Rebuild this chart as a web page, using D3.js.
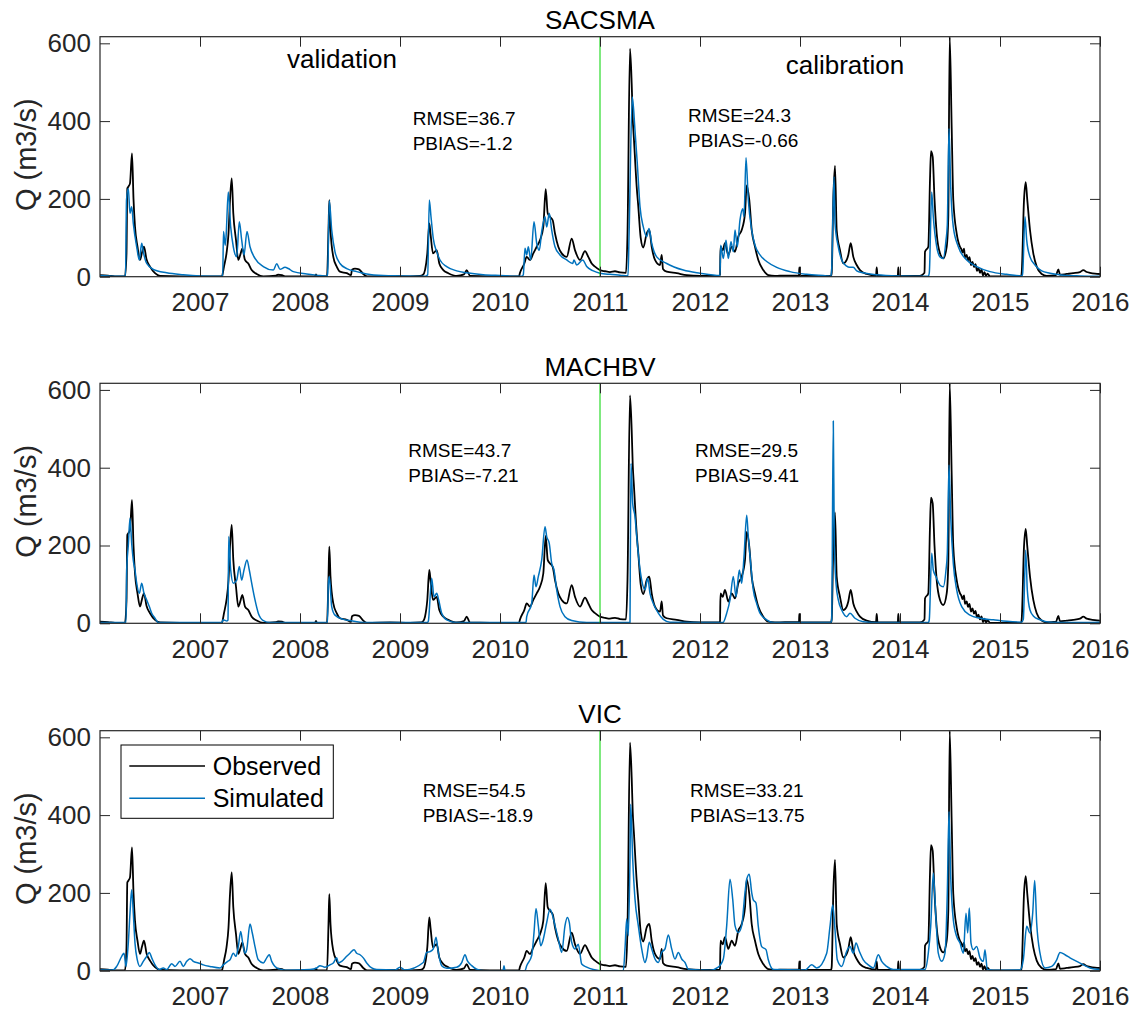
<!DOCTYPE html>
<html>
<head>
<meta charset="utf-8">
<script src="https://cdn.jsdelivr.net/npm/d3@7"></script>
<style>
  html, body { margin: 0; padding: 0; background: #fff; }
  svg { display: block; }
</style>
</head>
<body>
<script>
// ---- data: daily streamflow, keyed by decimal year -> Q (m3/s) ----
const yearTicks = [2007, 2008, 2009, 2010, 2011, 2012, 2013, 2014, 2015, 2016];
const qTicks = [0, 200, 400, 600];
const modelNames = ["SACSMA", "MACHBV", "VIC"];
const splitYear = 2011;

const observed = [
  [2006.000,4],[2006.080,3],[2006.150,1],[2006.250,1],[2006.265,60],[2006.273,227],[2006.285,232],[2006.300,240],[2006.320,317],[2006.335,200],[2006.350,128],[2006.375,77],[2006.400,43],[2006.420,62],[2006.440,77],[2006.465,45],[2006.500,26],[2006.550,9],[2006.600,2],[2006.800,1],[2007.000,1],[2007.220,1],
  [2007.227,8],[2007.240,26],[2007.265,60],[2007.285,111],[2007.300,197],[2007.317,253],[2007.333,163],[2007.360,94],[2007.383,43],[2007.407,60],[2007.423,73],[2007.450,43],[2007.483,34],[2007.517,17],[2007.567,7],[2007.633,1],[2007.760,3],[2007.780,5],[2007.820,4],[2007.850,1],[2008.150,1],[2008.160,6],[2008.170,1],
  [2008.270,1],[2008.285,120],[2008.293,197],[2008.305,120],[2008.333,51],[2008.367,26],[2008.400,13],[2008.467,9],[2008.510,4],[2008.520,18],[2008.550,21],[2008.590,19],[2008.633,7],[2008.670,1],[2008.900,2],[2009.100,1],[2009.200,2],
  [2009.230,5],[2009.250,17],[2009.273,60],[2009.293,137],[2009.305,111],[2009.330,60],[2009.367,68],[2009.393,34],[2009.433,17],[2009.483,9],[2009.567,2],[2009.640,6],[2009.667,17],[2009.700,2],[2009.900,1],[2010.190,1],
  [2010.200,10],[2010.243,34],[2010.267,51],[2010.300,43],[2010.333,60],[2010.367,77],[2010.400,94],[2010.433,128],[2010.457,225],[2010.477,163],[2010.500,154],[2010.527,145],[2010.550,111],[2010.583,77],[2010.617,60],[2010.667,51],[2010.717,98],[2010.750,68],[2010.800,43],[2010.850,66],[2010.883,51],[2010.917,34],[2010.950,26],[2011.000,17],[2011.050,14],[2011.100,12],[2011.150,14],[2011.200,11],[2011.260,10],
  [2011.275,111],[2011.300,586],[2011.317,496],[2011.327,410],[2011.340,351],[2011.367,231],[2011.383,180],[2011.407,100],[2011.433,75],[2011.467,111],[2011.493,120],[2011.517,77],[2011.550,43],[2011.600,30],[2011.617,56],[2011.630,20],[2011.667,13],[2011.767,9],[2011.867,4],[2012.000,2],[2012.190,2],
  [2012.200,5],[2012.205,77],[2012.227,68],[2012.250,86],[2012.283,56],[2012.317,77],[2012.350,64],[2012.383,103],[2012.417,120],[2012.450,163],[2012.467,235],[2012.493,197],[2012.517,120],[2012.550,77],[2012.583,43],[2012.633,17],[2012.683,4],[2012.750,2],[2012.850,3],[2012.990,3],[2012.993,24],[2013.000,3],[2013.200,2],[2013.310,2],
  [2013.317,10],[2013.333,200],[2013.350,285],[2013.367,120],[2013.400,68],[2013.433,34],[2013.467,43],[2013.483,56],[2013.507,86],[2013.533,51],[2013.567,30],[2013.600,17],[2013.667,7],[2013.760,3],[2013.767,24],[2013.775,3],[2013.900,2],[2013.978,2],[2013.983,24],[2013.990,2],[2014.200,2],
  [2014.245,10],[2014.250,64],[2014.283,77],[2014.300,250],[2014.310,323],[2014.327,308],[2014.345,200],[2014.367,111],[2014.400,60],[2014.433,47],[2014.467,77],[2014.483,154],[2014.497,617],[2014.517,381],[2014.533,197],[2014.567,111],[2014.583,90],[2014.600,77],[2014.615,70],[2014.625,62],[2014.640,72],[2014.650,50],[2014.667,56],[2014.680,42],[2014.695,50],[2014.710,30],[2014.725,38],[2014.740,25],[2014.755,32],[2014.770,15],[2014.785,22],[2014.800,10],[2014.815,18],[2014.830,3],[2014.845,12],[2014.860,2],[2014.875,8],[2014.900,1],[2015.000,1],[2015.210,1],
  [2015.217,10],[2015.240,197],[2015.257,243],[2015.273,197],[2015.300,120],[2015.333,60],[2015.367,26],[2015.417,7],[2015.467,2],[2015.560,4],[2015.583,19],[2015.600,5],[2015.667,7],[2015.733,9],[2015.800,12],[2015.833,17],[2015.867,12],[2015.900,10],[2015.950,8],[2016.000,7]
];

const simSACSMA = [
  [2006.000,3],[2006.150,1],[2006.255,1],[2006.265,197],[2006.283,227],[2006.300,163],[2006.317,180],[2006.333,137],[2006.367,77],[2006.393,43],[2006.417,86],[2006.433,64],[2006.467,34],[2006.533,19],[2006.667,10],[2006.833,5],[2007.000,2],[2007.200,1],
  [2007.227,1],[2007.235,116],[2007.252,81],[2007.260,100],[2007.283,218],[2007.307,128],[2007.333,77],[2007.367,51],[2007.393,141],[2007.417,94],[2007.440,56],[2007.470,116],[2007.500,77],[2007.550,47],[2007.633,26],[2007.733,17],[2007.767,33],[2007.800,19],[2007.850,24],[2007.883,21],[2007.933,13],[2008.067,7],[2008.200,3],[2008.270,1],
  [2008.277,10],[2008.293,195],[2008.317,120],[2008.350,64],[2008.400,34],[2008.467,21],[2008.567,13],[2008.667,7],[2008.833,3],[2009.000,2],[2009.250,1],
  [2009.277,5],[2009.293,197],[2009.310,154],[2009.333,98],[2009.367,64],[2009.400,43],[2009.467,26],[2009.567,15],[2009.667,10],[2009.833,5],[2010.000,3],[2010.220,1],
  [2010.233,5],[2010.250,73],[2010.267,56],[2010.283,77],[2010.307,43],[2010.340,141],[2010.367,86],[2010.393,68],[2010.417,116],[2010.450,154],[2010.467,128],[2010.493,163],[2010.517,120],[2010.550,77],[2010.600,56],[2010.667,43],[2010.727,34],[2010.740,43],[2010.767,30],[2010.827,43],[2010.867,26],[2010.933,15],[2011.000,9],[2011.100,6],[2011.200,4],[2011.280,2],
  [2011.290,100],[2011.323,462],[2011.350,376],[2011.373,291],[2011.400,180],[2011.433,128],[2011.467,103],[2011.490,124],[2011.517,86],[2011.567,51],[2011.667,34],[2011.833,17],[2012.000,9],[2012.200,3],
  [2012.207,81],[2012.233,47],[2012.260,94],[2012.283,47],[2012.310,90],[2012.333,64],[2012.350,120],[2012.373,77],[2012.400,146],[2012.427,175],[2012.440,154],[2012.460,306],[2012.483,197],[2012.517,120],[2012.550,81],[2012.600,56],[2012.667,39],[2012.767,24],[2012.900,13],[2013.067,6],[2013.267,2],[2013.310,1],
  [2013.317,20],[2013.340,257],[2013.350,137],[2013.383,77],[2013.417,43],[2013.467,27],[2013.493,24],[2013.533,24],[2013.567,15],[2013.633,10],[2013.767,5],[2014.000,2],[2014.283,1],
  [2014.293,10],[2014.317,218],[2014.333,154],[2014.367,77],[2014.400,51],[2014.433,47],[2014.460,94],[2014.473,133],[2014.490,381],[2014.507,231],[2014.533,128],[2014.583,77],[2014.667,43],[2014.767,26],[2014.900,13],[2015.067,6],[2015.220,2],
  [2015.227,10],[2015.250,154],[2015.267,94],[2015.300,51],[2015.350,30],[2015.417,15],[2015.500,9],[2015.633,4],[2015.800,2],[2016.000,1]
];

const simMACHBV = [
  [2006.000,2],[2006.260,2],[2006.267,137],[2006.283,200],[2006.300,270],[2006.317,205],[2006.333,162],[2006.350,137],[2006.367,103],[2006.393,77],[2006.417,103],[2006.440,77],[2006.467,60],[2006.493,43],[2006.517,26],[2006.550,13],[2006.583,2],[2007.000,2],[2007.220,2],
  [2007.230,9],[2007.270,6],[2007.280,8],[2007.287,223],[2007.307,137],[2007.333,103],[2007.367,111],[2007.393,146],[2007.417,111],[2007.440,137],[2007.470,163],[2007.493,137],[2007.517,103],[2007.550,60],[2007.583,26],[2007.633,7],[2007.700,2],[2008.275,2],
  [2008.283,100],[2008.293,120],[2008.317,43],[2008.350,21],[2008.433,10],[2008.500,7],[2008.600,3],[2008.667,2],[2009.275,2],
  [2009.283,5],[2009.317,116],[2009.340,68],[2009.367,77],[2009.387,60],[2009.417,26],[2009.467,9],[2009.567,2],[2010.260,2],
  [2010.267,17],[2010.317,51],[2010.340,124],[2010.360,94],[2010.383,120],[2010.417,163],[2010.450,248],[2010.467,223],[2010.493,205],[2010.517,154],[2010.540,137],[2010.567,86],[2010.600,43],[2010.650,17],[2010.717,7],[2010.867,2],[2011.300,2],
  [2011.303,150],[2011.310,411],[2011.327,308],[2011.350,274],[2011.367,223],[2011.393,154],[2011.417,111],[2011.450,86],[2011.477,116],[2011.500,77],[2011.533,51],[2011.583,26],[2011.633,10],[2011.700,3],[2012.230,2],
  [2012.267,26],[2012.300,60],[2012.333,120],[2012.360,68],[2012.393,137],[2012.417,103],[2012.440,171],[2012.467,278],[2012.483,223],[2012.507,154],[2012.533,86],[2012.567,51],[2012.600,26],[2012.667,9],[2012.733,2],[2013.310,2],
  [2013.317,10],[2013.333,520],[2013.343,205],[2013.360,103],[2013.383,60],[2013.417,34],[2013.467,17],[2013.500,26],[2013.550,13],[2013.633,4],[2013.733,2],[2014.285,2],
  [2014.293,10],[2014.317,180],[2014.333,137],[2014.360,120],[2014.400,98],[2014.433,94],[2014.460,137],[2014.473,180],[2014.490,407],[2014.507,274],[2014.533,154],[2014.567,86],[2014.617,43],[2014.700,21],[2014.800,13],[2014.933,9],[2015.067,5],[2015.217,3],
  [2015.233,10],[2015.257,188],[2015.273,86],[2015.300,34],[2015.333,19],[2015.400,9],[2015.500,3],[2015.750,2],[2016.000,3]
];

const simVIC = [
  [2006.000,2],[2006.130,2],[2006.167,11],[2006.217,37],[2006.240,45],[2006.260,11],[2006.283,71],[2006.300,148],[2006.317,208],[2006.333,148],[2006.350,71],[2006.373,28],[2006.400,11],[2006.433,24],[2006.467,37],[2006.493,47],[2006.517,33],[2006.550,15],[2006.593,3],[2006.633,7],[2006.667,3],[2006.717,18],[2006.750,11],[2006.800,24],[2006.833,11],[2006.867,24],[2006.900,31],[2006.933,24],[2006.983,20],[2007.033,15],[2007.100,11],[2007.200,7],
  [2007.233,15],[2007.277,24],[2007.300,28],[2007.333,45],[2007.360,37],[2007.383,62],[2007.407,101],[2007.427,71],[2007.450,45],[2007.467,54],[2007.500,120],[2007.523,97],[2007.550,62],[2007.583,28],[2007.633,20],[2007.667,33],[2007.693,41],[2007.717,24],[2007.750,11],[2007.800,4],[2007.867,1],[2008.100,3],
  [2008.167,7],[2008.200,13],[2008.250,9],[2008.300,15],[2008.333,20],[2008.367,33],[2008.383,20],[2008.417,24],[2008.467,37],[2008.500,45],[2008.540,54],[2008.567,45],[2008.600,41],[2008.633,33],[2008.667,20],[2008.717,7],[2008.767,3],[2008.950,2],[2009.000,9],[2009.050,2],
  [2009.233,21],[2009.267,47],[2009.300,49],[2009.333,56],[2009.360,86],[2009.383,47],[2009.417,13],[2009.467,6],[2009.567,9],[2009.617,21],[2009.650,41],[2009.673,26],[2009.717,13],[2009.767,4],[2009.850,0],[2010.030,0],[2010.040,13],[2010.050,0],[2010.250,0],
  [2010.267,13],[2010.317,39],[2010.340,98],[2010.360,160],[2010.383,116],[2010.407,64],[2010.433,81],[2010.467,124],[2010.500,158],[2010.527,141],[2010.550,116],[2010.583,81],[2010.617,47],[2010.650,116],[2010.673,137],[2010.693,124],[2010.717,73],[2010.750,56],[2010.783,68],[2010.817,17],[2010.867,9],[2010.933,3],[2011.000,0],[2011.233,0],
  [2011.250,56],[2011.267,133],[2011.283,90],[2011.300,287],[2011.307,428],[2011.327,287],[2011.350,184],[2011.383,116],[2011.417,56],[2011.450,21],[2011.467,34],[2011.493,73],[2011.517,56],[2011.550,30],[2011.583,21],[2011.617,47],[2011.650,56],[2011.683,92],[2011.717,56],[2011.750,30],[2011.783,47],[2011.817,30],[2011.850,21],[2011.883,4],[2012.100,1],
  [2012.183,9],[2012.233,30],[2012.267,116],[2012.300,235],[2012.327,184],[2012.350,116],[2012.383,98],[2012.417,116],[2012.450,201],[2012.467,235],[2012.493,248],[2012.517,201],[2012.533,182],[2012.560,174],[2012.583,114],[2012.617,62],[2012.660,54],[2012.683,28],[2012.733,3],[2013.050,2],
  [2013.117,15],[2013.167,7],[2013.267,45],[2013.300,114],[2013.327,169],[2013.350,105],[2013.373,28],[2013.417,11],[2013.467,50],[2013.500,62],[2013.533,45],[2013.560,71],[2013.593,50],[2013.633,28],[2013.683,15],[2013.733,7],[2013.783,41],[2013.817,24],[2013.867,11],[2013.933,3],[2014.250,3],
  [2014.283,45],[2014.307,114],[2014.333,251],[2014.360,131],[2014.383,45],[2014.417,24],[2014.450,45],[2014.473,200],[2014.490,409],[2014.507,242],[2014.533,131],[2014.567,88],[2014.600,71],[2014.633,45],[2014.660,148],[2014.677,97],[2014.693,161],[2014.710,71],[2014.733,54],[2014.767,62],[2014.800,33],[2014.833,24],[2014.850,54],[2014.873,3],[2014.933,1],[2015.200,2],
  [2015.233,28],[2015.267,114],[2015.300,97],[2015.327,148],[2015.347,232],[2015.367,122],[2015.400,45],[2015.450,7],[2015.517,11],[2015.567,28],[2015.600,47],[2015.650,41],[2015.700,33],[2015.767,24],[2015.833,15],[2015.900,7],[2016.000,3]
];

const simulatedByModel = [simSACSMA, simMACHBV, simVIC];

// goodness-of-fit statistics, validation (2006-2010) and calibration (2011-2015)
const rmseValidation = [36.7, 43.7, 54.5];
const pbiasValidation = [-1.2, -7.21, -18.9];
const rmseCalibration = [24.3, 29.5, 33.21];
const pbiasCalibration = [-0.66, 9.41, 13.75];

// ---- layout ----
const W = 1137, H = 1013;
const plotLeft = 100, plotRight = 1100, plotH = 240;
const panelTops = [36.7, 383.3, 730.7];
const statsValidationPos = [[412.7, 88], [408.3, 73.7], [422.7, 66.3]];
const statsCalibrationPos = [[688, 85], [695, 73.7], [690, 66.3]];
const FONT = "'Liberation Sans', Arial, Helvetica, sans-serif";
const AXIS_COLOR = "#262626";
const OBS_COLOR = "#000000";
const SIM_COLOR = "#0072BD";
const SPLIT_COLOR = "#00d400";

const svg = d3.select("body").append("svg")
  .attr("width", W).attr("height", H)
  .style("font-family", FONT);

const x = d3.scaleLinear().domain([2006, 2016]).range([plotLeft, plotRight]);
const y = d3.scaleLinear().domain([0, 617]).range([plotH, 0]);

svg.append("defs").append("clipPath").attr("id", "plot-clip")
  .append("rect").attr("x", plotLeft).attr("y", 0)
  .attr("width", plotRight - plotLeft).attr("height", plotH);

const line = d3.line()
  .x(d => x(d[0])).y(d => y(d[1]))
  .curve(d3.curveMonotoneX);

modelNames.forEach((name, i) => {
  const g = svg.append("g").attr("transform", `translate(0,${panelTops[i]})`);

  const plot = g.append("g").attr("clip-path", "url(#plot-clip)");
  plot.append("path").datum(observed)
    .attr("fill", "none").attr("stroke", OBS_COLOR)
    .attr("stroke-width", 1.8).attr("stroke-linejoin", "round")
    .attr("d", line);
  plot.append("path").datum(simulatedByModel[i])
    .attr("fill", "none").attr("stroke", SIM_COLOR)
    .attr("stroke-width", 1.5).attr("stroke-linejoin", "round")
    .attr("d", line);

  // validation / calibration split
  g.append("line")
    .attr("x1", x(splitYear)).attr("x2", x(splitYear))
    .attr("y1", 0).attr("y2", plotH)
    .attr("stroke", SPLIT_COLOR).attr("stroke-width", 1);

  // axes: ticks point inward on all four sides
  const xBottom = d3.axisBottom(x).tickValues(yearTicks).tickFormat(d3.format("d"))
    .tickSizeInner(-10).tickSizeOuter(0).tickPadding(16);
  const xTop = d3.axisTop(x).tickValues(yearTicks).tickFormat("")
    .tickSizeInner(-10).tickSizeOuter(0);
  const yLeft = d3.axisLeft(y).tickValues(qTicks).tickFormat(d3.format("d"))
    .tickSizeInner(-10).tickSizeOuter(0).tickPadding(9);
  const yRight = d3.axisRight(y).tickValues(qTicks).tickFormat("")
    .tickSizeInner(-10).tickSizeOuter(0);

  const styleAxis = sel => {
    sel.select(".domain").remove();
    sel.selectAll(".tick line").attr("stroke", AXIS_COLOR).attr("stroke-width", 1);
    sel.selectAll(".tick text").attr("fill", AXIS_COLOR)
      .style("font-family", FONT).style("font-size", "26px");
  };
  g.append("g").attr("transform", `translate(0,${plotH})`).call(xBottom).call(styleAxis);
  g.append("g").call(xTop).call(styleAxis);
  g.append("g").attr("transform", `translate(${plotLeft},0)`).call(yLeft).call(styleAxis);
  g.append("g").attr("transform", `translate(${plotRight},0)`).call(yRight).call(styleAxis);

  g.append("rect")
    .attr("x", plotLeft).attr("y", 0)
    .attr("width", plotRight - plotLeft).attr("height", plotH)
    .attr("fill", "none").attr("stroke", AXIS_COLOR).attr("stroke-width", 1.2);

  // title and y label
  g.append("text")
    .attr("x", (plotLeft + plotRight) / 2).attr("y", -7.5)
    .attr("text-anchor", "middle").attr("fill", "#000")
    .style("font-size", "26px").text(name);

  g.append("text")
    .attr("transform", `translate(26,${plotH / 2 - 2}) rotate(-90)`)
    .attr("text-anchor", "middle").attr("dominant-baseline", "central")
    .attr("fill", AXIS_COLOR).style("font-size", "29px")
    .text("Q (m3/s)");

  // fit statistics
  const stats = (pos, rmse, pbias) => {
    const t = g.append("text").attr("fill", "#000").style("font-size", "19px");
    t.append("tspan").attr("x", pos[0]).attr("y", pos[1]).text(`RMSE=${rmse}`);
    t.append("tspan").attr("x", pos[0]).attr("y", pos[1] + 25).text(`PBIAS=${pbias}`);
  };
  stats(statsValidationPos[i], rmseValidation[i], pbiasValidation[i]);
  stats(statsCalibrationPos[i], rmseCalibration[i], pbiasCalibration[i]);

  if (i === 0) {
    g.append("text").attr("x", 342).attr("y", 31).attr("text-anchor", "middle")
      .attr("fill", "#000").style("font-size", "26px").text("validation");
    g.append("text").attr("x", 845).attr("y", 37).attr("text-anchor", "middle")
      .attr("fill", "#000").style("font-size", "26px").text("calibration");
  }

  if (i === 2) {
    const lg = g.append("g");
    lg.append("rect").attr("x", 121).attr("y", 14.3)
      .attr("width", 212.3).attr("height", 73.3)
      .attr("fill", "#fff").attr("stroke", "#000").attr("stroke-width", 1);
    const entries = [["Observed", OBS_COLOR, 35.3], ["Simulated", SIM_COLOR, 67.6]];
    entries.forEach(([label, color, ly]) => {
      lg.append("line").attr("x1", 129.3).attr("x2", 205).attr("y1", ly).attr("y2", ly)
        .attr("stroke", color).attr("stroke-width", 1.5);
      lg.append("text").attr("x", 212.7).attr("y", ly)
        .attr("dominant-baseline", "central").attr("fill", "#000")
        .style("font-size", "25px").text(label);
    });
  }
});
</script>
</body>
</html>
